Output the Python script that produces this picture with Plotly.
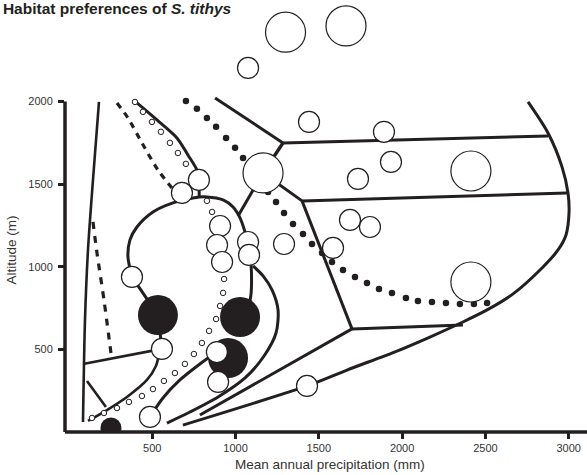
import plotly.graph_objects as go

INK = "#231f20"

# ---------------- boundary lines (precipitation in mm, altitude in m) ----------------
left_edge_x = [180, 144, 114, 96, 84]
left_edge_y = [1998, 1526, 1102, 678, 61]

upper_dash_x = [288, 354, 438, 534, 618]
upper_dash_y = [1992, 1901, 1750, 1586, 1477]

lower_dash_x = [144, 168, 210, 252]
lower_dash_y = [1272, 1084, 799, 478]

low_branch_x = [84, 558]
low_branch_y = [412, 503]

short_tick_x = [108, 222]
short_tick_y = [309, 151]

sw_curve_x = [558, 546, 522, 468, 348, 228, 114]
sw_curve_y = [503, 484, 400, 315, 212, 133, 67]

loop_x = [378, 354, 366, 408, 504, 624, 744, 828, 925, 985, 1027, 1057, 1075]
loop_y = [939, 1060, 1163, 1241, 1332, 1387, 1417, 1423, 1405, 1362, 1296, 1211, 1150]

upper_arc_x = [408, 528, 648, 714, 768, 780]
upper_arc_y = [1992, 1889, 1780, 1677, 1586, 1526]

link_top_x = [780, 782]
link_top_y = [1526, 1423]

link_a_x = [378, 534, 558]
link_a_y = [939, 708, 503]

link_b_x = [1081, 1093, 1087, 1027]
link_b_y = [1072, 1011, 799, 696]

j_arc_x = [1105, 1165, 1219, 1255, 1243, 1171, 1057, 895, 726, 588]
j_arc_y = [1005, 945, 860, 739, 599, 460, 327, 212, 121, 54]

inner_rise_x = [486, 564, 666, 786, 888]
inner_rise_y = [91, 206, 315, 412, 484]

spoke_g_x = [1165, 1015]
spoke_g_y = [1568, 1308]

ridge_x = [877, 1285]
ridge_y = [2022, 1750]

top_band_x = [1285, 2876]
top_band_y = [1750, 1792]

stem_x = [1285, 1165]
stem_y = [1750, 1568]

mid_spoke_x = [1165, 1399]
mid_spoke_y = [1568, 1399]

mid_band_x = [1399, 2990]
mid_band_y = [1399, 1447]

diag_x = [1399, 1699]
diag_y = [1399, 624]

low_band_x = [1699, 2365]
low_band_y = [624, 648]

fan_x = [1699, 786]
fan_y = [624, 103]

outer_x = [684, 1429, 1669, 1969, 2167, 2365, 2510, 2666, 2846, 2936, 2984,
           3002, 2996, 2960, 2876, 2756]
outer_y = [42, 279, 375, 490, 575, 666, 739, 836, 999, 1102, 1193,
           1326, 1447, 1605, 1810, 1998]

# ---------------- dotted sequences ----------------
dots_x = [702, 768, 828, 883, 943, 997, 1045, 1195, 1243, 1291, 1345, 1405,
          1459, 1519, 1579, 1645, 1717, 1789, 1861, 1939, 2023, 2095, 2179,
          2263, 2347, 2431, 2510]
dots_y = [2004, 1956, 1901, 1847, 1780, 1720, 1659, 1453, 1393, 1326, 1259,
          1199, 1138, 1084, 1029, 981, 939, 902, 866, 842, 811, 793, 787,
          781, 775, 775, 781]

rings_x = [396, 444, 498, 552, 606, 654, 702, 828, 859, 931, 925, 907, 883,
           841, 798, 750, 696, 636, 570, 504, 438, 360, 288, 210, 138]
rings_y = [1998, 1938, 1877, 1817, 1750, 1689, 1623, 1399, 1332, 926, 842,
           763, 684, 612, 539, 472, 412, 357, 309, 260, 218, 182, 145, 115, 85]

# ---------------- sites ----------------
big_open_x = [1300, 1663, 1165, 2413, 2413]
big_open_y = [2420, 2458, 1568, 1580, 908]

open_x = [1075, 1441, 1891, 1933, 1735, 1687, 1807, 1585, 1291, 1429, 780,
          678, 907, 889, 919, 1075, 1081, 378, 558, 486, 888, 895]
open_y = [2204, 1877, 1817, 1635, 1532, 1284, 1241, 1114, 1138, 279, 1526,
          1447, 1247, 1132, 1029, 1150, 1072, 939, 503, 91, 484, 303]

big_filled_x = [534, 1027, 955]
big_filled_y = [708, 696, 448]

small_filled_x = [252]
small_filled_y = [24]

x_ticks = [500, 1000, 1500, 2000, 2500, 3000]
y_ticks = [500, 1000, 1500, 2000]

fig = go.Figure()


def add_line(xs, ys, width=3.0, dash="solid", smooth=False):
    fig.add_trace(go.Scatter(
        x=xs, y=ys, mode="lines",
        line=dict(color=INK, width=width, dash=dash,
                  shape="spline" if smooth else "linear", smoothing=0.8),
        hoverinfo="skip", showlegend=False))


add_line(left_edge_x, left_edge_y, 2.6, smooth=True)
add_line(upper_dash_x, upper_dash_y, 3.2, dash="6px,6px", smooth=True)
add_line(lower_dash_x, lower_dash_y, 3.2, dash="7px,7px", smooth=True)
add_line(low_branch_x, low_branch_y, 2.6)
add_line(short_tick_x, short_tick_y, 2.6)
add_line(sw_curve_x, sw_curve_y, 2.6, smooth=True)
add_line(loop_x, loop_y, 3.0, smooth=True)
add_line(upper_arc_x, upper_arc_y, 3.0, smooth=True)
add_line(link_top_x, link_top_y, 3.0)
add_line(link_a_x, link_a_y, 3.0)
add_line(link_b_x, link_b_y, 3.0, smooth=True)
add_line(j_arc_x, j_arc_y, 3.0, smooth=True)
add_line(inner_rise_x, inner_rise_y, 3.0, smooth=True)
add_line(spoke_g_x, spoke_g_y, 3.0)
add_line(ridge_x, ridge_y, 3.0)
add_line(top_band_x, top_band_y, 3.0)
add_line(stem_x, stem_y, 3.5)
add_line(mid_spoke_x, mid_spoke_y, 3.0)
add_line(mid_band_x, mid_band_y, 3.0)
add_line(diag_x, diag_y, 3.0)
add_line(low_band_x, low_band_y, 3.0)
add_line(fan_x, fan_y, 3.0)
add_line(outer_x, outer_y, 3.0, smooth=True)

fig.add_trace(go.Scatter(
    x=dots_x, y=dots_y, mode="markers",
    marker=dict(size=6.5, color=INK, line=dict(width=0)),
    hoverinfo="skip", showlegend=False))

fig.add_trace(go.Scatter(
    x=rings_x, y=rings_y, mode="markers",
    marker=dict(size=5.5, color="white", line=dict(color=INK, width=1)),
    hoverinfo="skip", showlegend=False))

fig.add_trace(go.Scatter(
    x=big_filled_x, y=big_filled_y, mode="markers",
    marker=dict(size=40, color=INK, line=dict(width=0)),
    hoverinfo="skip", showlegend=False))

fig.add_trace(go.Scatter(
    x=small_filled_x, y=small_filled_y, mode="markers",
    marker=dict(size=21, color=INK, line=dict(width=0)),
    hoverinfo="skip", showlegend=False))

fig.add_trace(go.Scatter(
    x=big_open_x, y=big_open_y, mode="markers",
    marker=dict(size=40, color="white", line=dict(color=INK, width=1.2)),
    hoverinfo="skip", showlegend=False))

fig.add_trace(go.Scatter(
    x=open_x, y=open_y, mode="markers",
    marker=dict(size=21, color="white", line=dict(color=INK, width=1.2)),
    hoverinfo="skip", showlegend=False))

Y_TOP = 2615
axis_common = dict(showgrid=False, zeroline=False, showline=False,
                   ticks="outside", ticklen=6, tickwidth=3, tickcolor=INK,
                   tickfont=dict(family="Liberation Sans, Arial, sans-serif",
                                 size=11, color="#333333"))

fig.update_layout(
    width=587, height=475,
    margin=dict(l=65, r=0, t=0, b=43),
    paper_bgcolor="white", plot_bgcolor="white",
    xaxis=dict(range=[-24, 3110], tickvals=x_ticks, **axis_common),
    yaxis=dict(range=[0, Y_TOP], tickvals=y_ticks, ticklabelstandoff=3,
               **axis_common),
    title=dict(text="<b>Habitat preferences of <i>S. tithys</i></b>",
               x=0.005, xanchor="left", xref="container",
               y=0.983, yanchor="middle", yref="container",
               font=dict(family="Liberation Sans, Arial, sans-serif",
                         size=15.5, color=INK)),
    font=dict(family="Liberation Sans, Arial, sans-serif", color=INK),
)

# axis lines: x runs the full width, y stops at the 2000 m tick
fig.add_shape(type="line", xref="paper", yref="paper", x0=0, x1=1, y0=0, y1=0,
              line=dict(color=INK, width=3.5))
fig.add_shape(type="line", xref="paper", yref="paper", x0=0, x1=0,
              y0=0, y1=y_ticks[-1] / Y_TOP, line=dict(color=INK, width=3.5))

fig.add_annotation(text="Mean annual precipitation (mm)", xref="x", yref="paper",
                   x=1567, y=-0.075, showarrow=False, xanchor="center",
                   yanchor="middle", font=dict(size=13.5, color="#333333"))
fig.add_annotation(text="Altitude (m)", xref="paper", yref="paper",
                   x=-0.1015, y=0.42, showarrow=False, textangle=-90,
                   xanchor="center", yanchor="middle",
                   font=dict(size=13.5, color="#333333"))

fig.write_html("out.html")
